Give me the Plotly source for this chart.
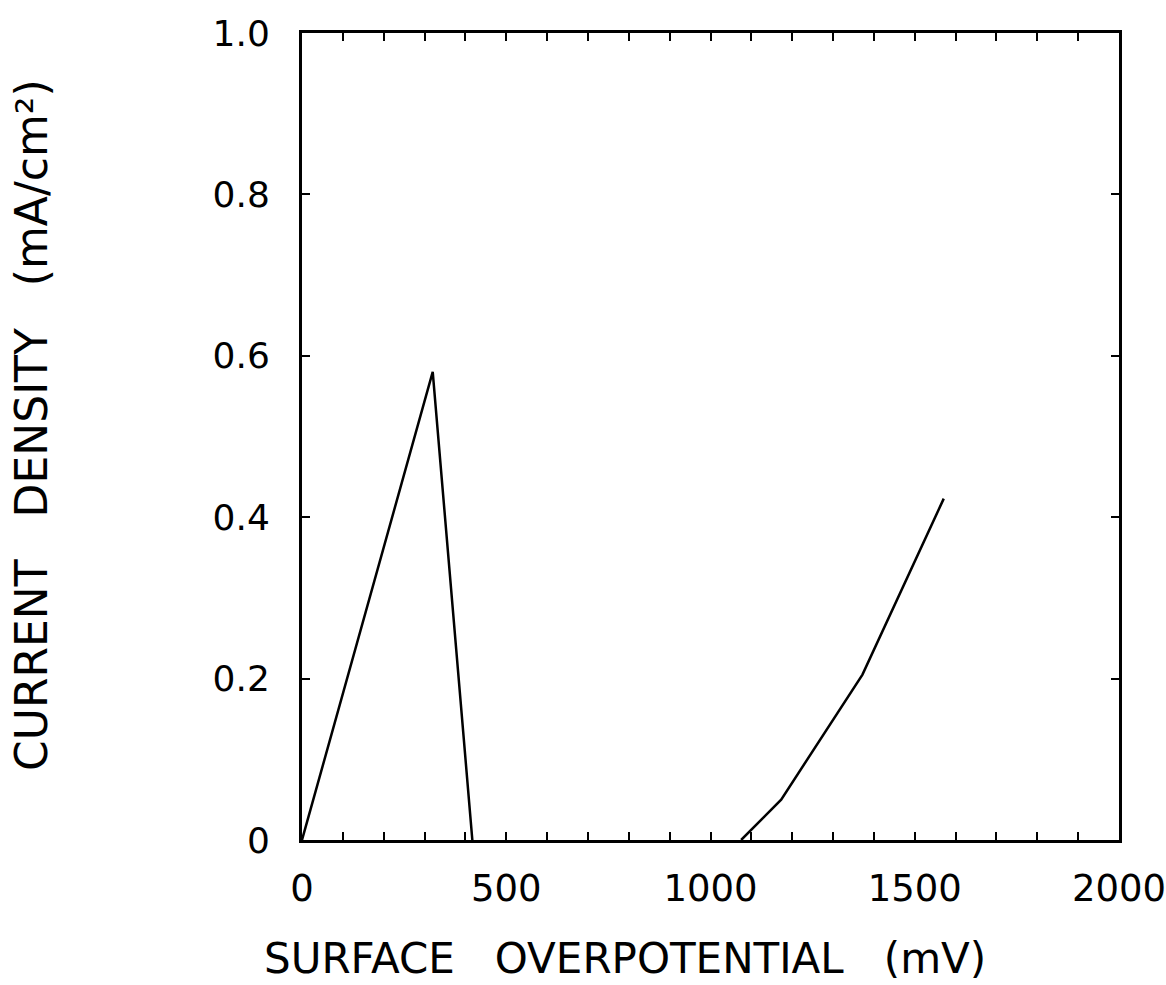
import plotly.graph_objects as go

# Curve 1 (anodic peak)
x1 = [0, 160, 320, 417]
y1 = [0.0, 0.29, 0.58, 0.0]
# Curve 2
x2 = [1075, 1173, 1372, 1571]
y2 = [0.0, 0.05, 0.205, 0.423]

xtick_vals = list(range(0, 2001, 100))
xtick_text = [str(v) if v % 500 == 0 else "" for v in xtick_vals]
ytick_vals = [0, 0.2, 0.4, 0.6, 0.8, 1.0]
ytick_text = ["0", "0.2", "0.4", "0.6", "0.8", "1.0"]

FONT = "DejaVu Sans"

fig = go.Figure()
fig.add_trace(go.Scatter(x=x1, y=y1, mode="lines", line=dict(color="black", width=2.5)))
fig.add_trace(go.Scatter(x=x2, y=y2, mode="lines", line=dict(color="black", width=2.5)))

fig.update_layout(
    width=1166, height=985,
    margin=dict(l=302, r=47, t=33, b=145),
    paper_bgcolor="white", plot_bgcolor="white",
    showlegend=False,
    font=dict(family=FONT, color="black", size=38),
)
fig.update_xaxes(
    range=[0, 2000], tickvals=xtick_vals, ticktext=xtick_text,
    ticks="inside", ticklen=8, tickwidth=2, tickcolor="black",
    showline=True, linecolor="black", linewidth=3, mirror="ticks",
    showgrid=False, zeroline=False, automargin=False,
    ticklabeloverflow="allow",
    tickfont=dict(family=FONT, size=37), ticklabelstandoff=14,
)
fig.update_yaxes(
    range=[0, 1.0], tickvals=ytick_vals, ticktext=ytick_text,
    ticks="inside", ticklen=8, tickwidth=2, tickcolor="black",
    showline=True, linecolor="black", linewidth=3, mirror="ticks",
    showgrid=False, zeroline=False, automargin=False,
    ticklabeloverflow="allow",
    tickfont=dict(family=FONT, size=36), ticklabelstandoff=22,
)
fig.add_annotation(
    text="SURFACE   OVERPOTENTIAL   (mV)", xref="paper", yref="paper",
    x=(625 - 302) / 817, y=-(958 - 840) / 807, xanchor="center", yanchor="middle",
    showarrow=False, font=dict(family=FONT, size=42, color="black"),
)
fig.add_annotation(
    text="CURRENT   DENSITY   (mA/cm²)", xref="paper", yref="paper",
    x=-(302 - 31) / 817, y=(840 - 425) / 807, xanchor="center", yanchor="middle",
    textangle=-90, showarrow=False, font=dict(family=FONT, size=44, color="black"),
)
fig.write_html("out.html")
